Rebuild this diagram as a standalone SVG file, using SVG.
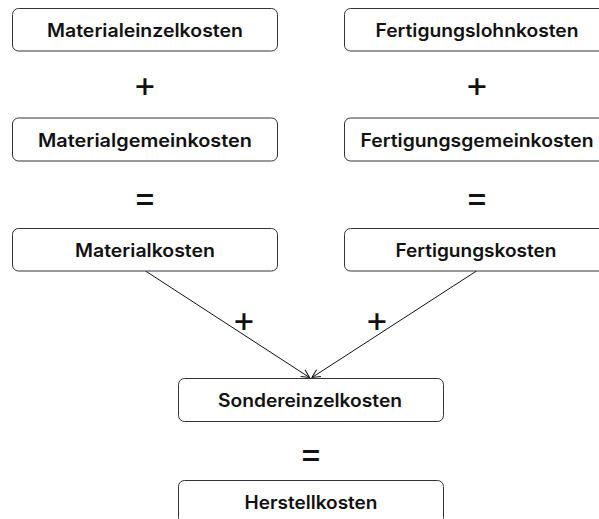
<svg xmlns="http://www.w3.org/2000/svg" width="599" height="519" viewBox="0 0 599 519">
<style>
.box{fill:#fff;stroke:#333;stroke-width:1}
.t{font-family:Inter,"Noto Sans",sans-serif;font-size:18px;font-weight:600;fill:#111;text-anchor:middle;dominant-baseline:central}
.op{font-family:Inter,"Noto Sans",sans-serif;font-size:36px;font-weight:400;fill:#111;text-anchor:middle;dominant-baseline:central}
.c{fill:none;stroke:#111;stroke-width:1}
</style>
<defs>
<marker id="arr" markerWidth="10" markerHeight="10" refX="9" refY="5" orient="auto" markerUnits="userSpaceOnUse">
<path d="M1,1 L9,5 L1,9" fill="none" stroke="#111" stroke-width="1"/>
</marker>
</defs>
<rect width="599" height="519" fill="#fff"/>
<g id="connectors">
<line class="c" x1="145.5" y1="271" x2="309.5" y2="377.5" marker-end="url(#arr)"/>
<line class="c" x1="476.5" y1="271" x2="312" y2="377.5" marker-end="url(#arr)"/>
<text class="op" x="244" y="319">+</text>
<text class="op" x="377" y="319">+</text>
</g>
<g id="n1"><rect class="box" x="12.5" y="8.5" width="265" height="42.5" rx="6"/><text class="t" x="145" y="30.5" textLength="196" lengthAdjust="spacingAndGlyphs">Materialeinzelkosten</text></g>
<g id="n2"><rect class="box" x="344.5" y="8.5" width="265" height="42.5" rx="6"/><text class="t" x="477" y="30.5" textLength="203" lengthAdjust="spacingAndGlyphs">Fertigungslohnkosten</text></g>
<g id="op1"><text class="op" x="145" y="84">+</text></g>
<g id="op2"><text class="op" x="477" y="84">+</text></g>
<g id="n3"><rect class="box" x="12.5" y="118" width="265" height="43" rx="6"/><text class="t" x="145" y="140" textLength="214" lengthAdjust="spacingAndGlyphs">Materialgemeinkosten</text></g>
<g id="n4"><rect class="box" x="344.5" y="118" width="265" height="43" rx="6"/><text class="t" x="477" y="140" textLength="233" lengthAdjust="spacingAndGlyphs">Fertigungsgemeinkosten</text></g>
<g id="op3"><text class="op" x="145" y="197">=</text></g>
<g id="op4"><text class="op" x="477" y="197">=</text></g>
<g id="n5"><rect class="box" x="12.5" y="228.5" width="265" height="42.5" rx="6"/><text class="t" x="145" y="250" textLength="140" lengthAdjust="spacingAndGlyphs">Materialkosten</text></g>
<g id="n6"><rect class="box" x="344.5" y="228.5" width="265" height="42.5" rx="6"/><text class="t" x="476" y="250" textLength="161" lengthAdjust="spacingAndGlyphs">Fertigungskosten</text></g>
<g id="n7"><rect class="box" x="178.5" y="378.5" width="265" height="43" rx="6"/><text class="t" x="310" y="400" textLength="184" lengthAdjust="spacingAndGlyphs">Sondereinzelkosten</text></g>
<g id="op5"><text class="op" x="311" y="453">=</text></g>
<g id="n8"><rect class="box" x="178.5" y="480.5" width="265" height="43" rx="6"/><text class="t" x="311" y="502" textLength="133" lengthAdjust="spacingAndGlyphs">Herstellkosten</text></g>
</svg>
